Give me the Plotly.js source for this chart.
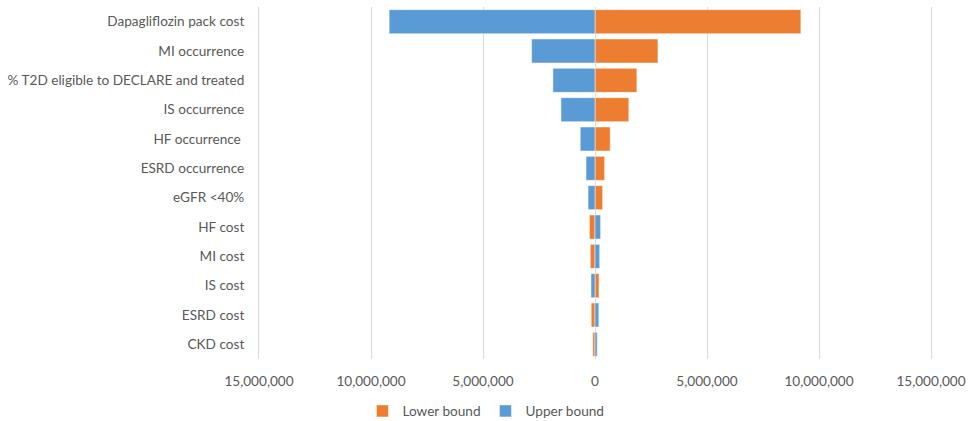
<!DOCTYPE html>
<html>
<head>
<meta charset="utf-8">
<script src="https://cdn.plot.ly/plotly-3.0.1.min.js"></script>
<style>html,body{margin:0;padding:0;background:#fff;}#chart{width:971px;height:421px;}</style>
</head>
<body>
<div id="chart"></div>
<script>
// Categories, top to bottom
var categories = [
  "Dapagliflozin pack cost",
  "MI occurrence",
  "% T2D eligible to DECLARE and treated",
  "IS occurrence",
  "HF occurrence\u00a0",
  "ESRD occurrence",
  "eGFR <40%",
  "HF cost",
  "MI cost",
  "IS cost",
  "ESRD cost",
  "CKD cost"
];
// Deviation from base case (signed)
var lowerBound = [9190000, 2810000, 1870000, 1510000, 680000, 430000, 340000, -250000, -210000, 180000, -170000, -100000];
var upperBound = [-9190000, -2830000, -1880000, -1520000, -660000, -400000, -310000, 250000, 210000, -180000, 170000, 100000];
// Axis ticks
var tickValues = [-15000000, -10000000, -5000000, 0, 5000000, 10000000, 15000000];
var tickLabels = ["15,000,000", "10,000,000", "5,000,000", "0", "5,000,000", "10,000,000", "15,000,000"];

var fontFam = "Lato, 'Open Sans', sans-serif";
var txtColor = "#595959";
var fs = 13.6;

var traces = [
  {
    type: "bar", orientation: "h", name: "Lower bound",
    y: categories, x: lowerBound, width: 0.82,
    marker: {color: "#ED7D31", line: {color: "rgba(255,255,255,0.7)", width: 0.7}},
    hoverinfo: "x+y"
  },
  {
    type: "bar", orientation: "h", name: "Upper bound",
    y: categories, x: upperBound, width: 0.82,
    marker: {color: "#5B9BD5", line: {color: "rgba(255,255,255,0.7)", width: 0.7}},
    hoverinfo: "x+y"
  }
];

var layout = {
  width: 971, height: 421,
  margin: {l: 259, r: 40, t: 7, b: 62, pad: 0, autoexpand: false},
  paper_bgcolor: "#ffffff", plot_bgcolor: "#ffffff",
  barmode: "overlay",
  font: {family: fontFam, size: fs, color: txtColor},
  showlegend: true,
  legend: {
    orientation: "h", x: 0.337, xanchor: "center", y: -0.148, yanchor: "middle",
    font: {family: fontFam, size: fs, color: txtColor},
    itemwidth: 30, traceorder: "normal", entrywidth: 78
  },
  xaxis: {
    range: [-15000000, 15000000],
    tickmode: "array", tickvals: tickValues, ticktext: tickLabels,
    showgrid: true, gridcolor: "#d9d9d9", gridwidth: 1,
    zeroline: true, zerolinecolor: "#d9d9d9", zerolinewidth: 1,
    showline: false, ticks: "", ticklabelstandoff: 12,
    tickfont: {family: fontFam, size: fs, color: txtColor},
    automargin: false, fixedrange: true
  },
  yaxis: {
    type: "category", categoryorder: "array", categoryarray: categories,
    autorange: "reversed",
    showgrid: false, zeroline: false,
    showline: true, mirror: true, linecolor: "#d9d9d9", linewidth: 1,
    ticks: "", ticklabelstandoff: 11,
    tickfont: {family: fontFam, size: fs, color: txtColor},
    automargin: false, fixedrange: true
  }
};

Plotly.newPlot("chart", traces, layout, {displayModeBar: false, staticPlot: true});
</script>
</body>
</html>
